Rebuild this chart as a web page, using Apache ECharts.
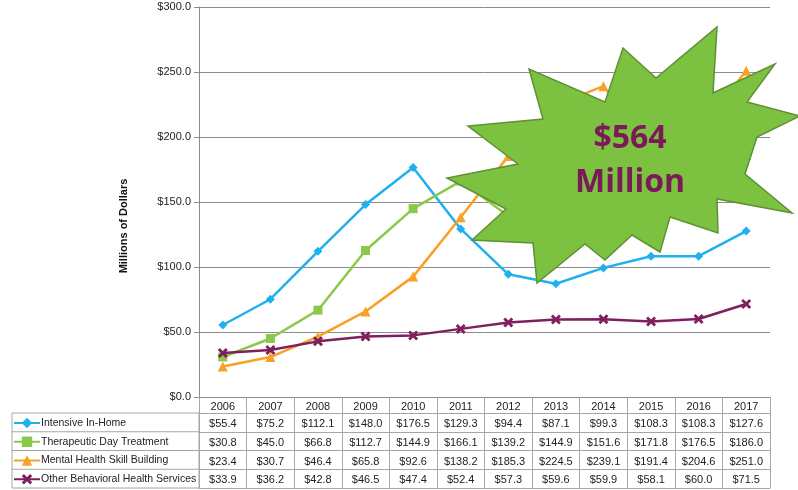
<!DOCTYPE html>
<html><head><meta charset="utf-8">
<script src="https://cdn.jsdelivr.net/npm/echarts@6/dist/echarts.min.js"></script>
<style>html,body{margin:0;padding:0;background:#fff}#c{width:798px;height:490px}</style>
</head><body><div id="c"></div>
<script>
const years = ['2006','2007','2008','2009','2010','2011','2012','2013','2014','2015','2016','2017'];
const seriesNames = ['Intensive In-Home','Therapeutic Day Treatment','Mental Health Skill Building','Other Behavioral Health Services'];
const intensiveInHome = [55.4,75.2,112.1,148.0,176.5,129.3,94.4,87.1,99.3,108.3,108.3,127.6];
const therapeuticDay = [30.8,45.0,66.8,112.7,144.9,166.1,139.2,144.9,151.6,171.8,176.5,186.0];
const mentalHealthSkill = [23.4,30.7,46.4,65.8,92.6,138.2,185.3,224.5,239.1,191.4,204.6,251.0];
const otherBehavioral = [33.9,36.2,42.8,46.5,47.4,52.4,57.3,59.6,59.9,58.1,60.0,71.5];
const yTicks = {min:0, max:300, interval:50};
const calloutText = ['$564','Million'];
const yAxisTitle = 'Millions of Dollars';

const allValues = [intensiveInHome, therapeuticDay, mentalHealthSkill, otherBehavioral];
const colors = ['#1FB0EE','#8CC84B','#F9A026','#7F1F5E'];
const xSym = 'path://M2,0 L5,3 L8,0 L10,2 L7,5 L10,8 L8,10 L5,7 L2,10 L0,8 L3,5 L0,2 Z';
const symbols = ['diamond','rect','triangle',xSym];
const symSizes = [9,9,10,10];
const FONT = 'Liberation Sans';
const gridCol = '#8C8C8C';
const tableCol = '#A6A6A6';

const chart = echarts.init(document.getElementById('c'), null, {renderer:'canvas'});

const rowTop = 413, rowH = 18.75, plotBottom = 397;
const xAxes = [{
  type:'category', data:years, gridIndex:0, position:'bottom', boundaryGap:true,
  axisLine:{show:true, lineStyle:{color:gridCol, width:1}},
  axisTick:{show:true, interval:0, length:rowTop + 4*rowH - plotBottom, lineStyle:{color:tableCol}},
  axisLabel:{interval:0, margin:4, color:'#222', fontFamily:FONT, fontSize:11}
}];
for (let i = 0; i <= 4; i++) {
  const vals = allValues[i];
  xAxes.push({
    type:'category', data:years, gridIndex:0, position:'bottom', boundaryGap:true,
    offset: rowTop + i*rowH - plotBottom,
    axisLine:{show:true, lineStyle:{color:tableCol, width:1}},
    axisTick:{show:false},
    axisLabel: vals ? {interval:0, margin:5.5, color:'#222', fontFamily:FONT, fontSize:11,
      formatter:(v, idx) => '$' + vals[idx].toFixed(1)} : {show:false}
  });
}

const series = allValues.map((vals, i) => ({
  name: seriesNames[i], type:'line', data: vals, xAxisIndex:0, yAxisIndex:0,
  symbol: symbols[i], symbolSize: symSizes[i], showSymbol:true,
  lineStyle:{color:colors[i], width:2.5},
  itemStyle:{color:colors[i], borderColor:colors[i], borderWidth:0},
  emphasis:{disabled:true}, animation:false, z: 2 + i
}));

const legends = seriesNames.map((n, i) => ({
  orient:'horizontal', left:13, top: rowTop + i*rowH + 3, padding:0,
  itemWidth:26, itemHeight:13,
  textStyle:{fontFamily:FONT, fontSize:10.5, lineHeight:13, color:'#222', padding:[1,0,0,-4]},
  data:[n], selectedMode:false
}));

// starburst callout points (annotation shape)
const star = [[717,27],[713,93],[775,64],[747,102],[800,116],[757,137],[745,174],[792,213],[717,199],[718,233],
  [670,217],[660,252],[632,235],[605,260],[585,244],[537,283],[533,243],[472,240],[506,209],[447,178],
  [518,164],[468,126],[543,119],[529,69],[605,102],[623,48],[656,78]];

const leftX = 12, leftR = 199;
const tableGraphics = [
  {type:'rect', shape:{x:leftX, y:rowTop, width:leftR-leftX, height:4*rowH}, style:{fill:null, stroke:tableCol, lineWidth:1}, z:50}
];
for (let i = 1; i < 4; i++) {
  tableGraphics.push({type:'line', shape:{x1:leftX, y1:rowTop+i*rowH, x2:leftR, y2:rowTop+i*rowH}, style:{stroke:tableCol, lineWidth:1}, z:50});
}

chart.setOption({
  animation:false,
  backgroundColor:'#fff',
  grid:{left:199, right:28, top:7, bottom:490-plotBottom, containLabel:false},
  legend: legends,
  xAxis: xAxes,
  yAxis:{
    type:'value', min:yTicks.min, max:yTicks.max, interval:yTicks.interval,
    axisLine:{show:true, lineStyle:{color:gridCol}},
    axisTick:{show:true, length:5, lineStyle:{color:gridCol}},
    splitLine:{show:true, lineStyle:{color:gridCol, width:1}},
    axisLabel:{margin:8, color:'#222', fontFamily:FONT, fontSize:11, formatter:v => '$' + v.toFixed(1)}
  },
  series: series,
  graphic: [
    ...tableGraphics,
    {type:'text', x:124, y:226, rotation:Math.PI/2, z:50,
      style:{text:yAxisTitle, fontFamily:FONT, fontSize:11, fontWeight:'bold', fill:'#111', textAlign:'center', textVerticalAlign:'middle'}},
    {type:'polygon', shape:{points:star}, z:100,
      style:{fill:'#7DC141', stroke:'#5E9132', lineWidth:1.5}},
    {type:'text', x:630, y:139, z:101,
      style:{text:calloutText[0], fontFamily:'Open Sans', fontSize:32, fontWeight:'bold', fill:'#7A1B58', textAlign:'center', textVerticalAlign:'middle'}},
    {type:'text', x:630, y:183, z:101,
      style:{text:calloutText[1], fontFamily:'Open Sans', fontSize:32, fontWeight:'bold', fill:'#7A1B58', textAlign:'center', textVerticalAlign:'middle'}}
  ]
});
</script>
</body></html>
